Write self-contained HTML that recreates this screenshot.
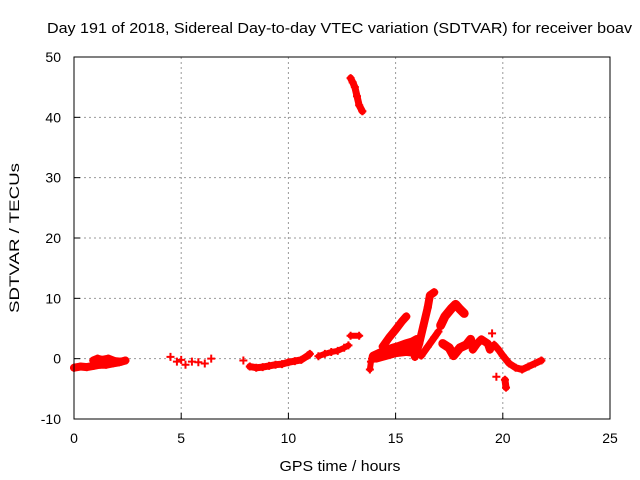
<!DOCTYPE html>
<html><head><meta charset="utf-8"><style>
body{margin:0;background:#fff}
svg{display:block;font-family:"Liberation Sans",sans-serif}
</style></head><body>
<svg id="chart" width="640" height="480" viewBox="0 0 640 480">
<text x="47" y="33" font-size="15" textLength="585" lengthAdjust="spacingAndGlyphs">Day 191 of 2018, Sidereal Day-to-day VTEC variation (SDTVAR) for receiver boav</text>
<text transform="translate(19,238) rotate(-90)" text-anchor="middle" font-size="14" textLength="150" lengthAdjust="spacingAndGlyphs">SDTVAR / TECUs</text>
<text x="340" y="471" text-anchor="middle" font-size="15" textLength="121" lengthAdjust="spacingAndGlyphs">GPS time / hours</text>
<g id="grid"></g><g id="marks"></g>
<rect x="74" y="57" width="536" height="362" fill="none" stroke="#000" stroke-width="1"/>
<g id="ticks"></g>
</svg>
<script>
const xTicks=[0,5,10,15,20,25];
const yTicks=[-10,0,10,20,30,40,50];
const t0=[[0,-1.5],[0.3,-1.3],[0.6,-1.4],[0.9,-1.2],[1.2,-1.0],[1.5,-1.0],[1.8,-0.8],[2.1,-0.6],[2.4,-0.3]];
const t1=[[0.9,-0.3],[1.1,0],[1.3,-0.2],[1.6,0],[1.9,-0.4],[2.2,-0.5]];
const t2=[[4.5,0.3],[4.8,-0.5],[5.0,-0.2],[5.2,-1.0],[5.5,-0.5],[5.8,-0.6],[6.1,-0.8],[6.4,0]];
const t3=[[7.9,-0.3]];
const t4=[[8.2,-1.3],[8.5,-1.5],[8.8,-1.4],[9.1,-1.2],[9.4,-1.0],[9.7,-0.9],[10.0,-0.6],[10.3,-0.4],[10.6,-0.2],[10.9,0.5],[11.0,0.8]];
const t5=[[11.4,0.4],[11.7,0.8],[12.0,1.1],[12.3,1.3],[12.6,1.8],[12.8,2.2]];
const t6=[[12.9,3.8],[13.3,3.8]];
const t7=[[12.9,46.5],[13.0,45.8],[13.1,45],[13.2,43.5],[13.3,42],[13.45,41]];
const t8=[[13.8,-1.8],[13.85,-0.5],[13.9,0]];
const t9=[[14.0,0.3],[14.3,0.8],[14.6,1.2],[14.9,1.6],[15.2,1.9],[15.5,2.3],[15.8,2.6],[16.0,3]];
const t9b=[[14.1,0.1],[14.5,0.5],[15,1],[15.5,1.2],[16,1.0]];
const t10=[[14.4,2],[14.7,3.5],[15.0,4.8],[15.3,6.2],[15.5,7]];
const t11=[[15.9,0.3],[16.1,2.5],[16.3,5.5],[16.5,8.5],[16.6,10.5],[16.8,11]];
const t12=[[16.2,0.5],[16.5,2],[16.8,3.5],[17.0,4.5]];
const t13=[[17.1,5.5],[17.3,7],[17.6,8.3],[17.8,9],[18.0,8.2],[18.2,7.5]];
const t14=[[17.2,2.5],[17.5,1.8],[17.7,0.5],[18.0,1.8],[18.3,2.3],[18.5,3.2]];
const t15=[[18.6,1.5],[18.8,2.5],[19.0,3.2],[19.3,2.5],[19.4,1.5]];
const t16=[[19.5,4.2]];
const t17=[[19.6,2.3],[19.8,1.5],[20.0,0.5],[20.3,-0.8],[20.6,-1.5],[20.9,-1.8],[21.2,-1.3],[21.5,-0.8],[21.8,-0.3]];
const t18=[[19.7,-3]];
const t19=[[20.1,-3.5],[20.15,-4.8]];
const tracks=[t0,t1,t2,t3,t4,t5,t6,t7,t8,t9,t9b,t10,t11,t12,t13,t14,t15,t16,t17,t18,t19];
const widths=[8,8,0,0,7,6,6,7,6,11,9,8,8,7,9,9,8,0,7,0,7];

const X=h=>74+h*(536/25);
const Y=v=>419-(v+10)*(362/60);
const NS="http://www.w3.org/2000/svg";
const grid=document.getElementById('grid'),ticks=document.getElementById('ticks'),marks=document.getElementById('marks');
function mk(tag,attrs,parent){const e=document.createElementNS(NS,tag);for(const k in attrs)e.setAttribute(k,attrs[k]);parent.appendChild(e);return e;}
xTicks.forEach(t=>{
  if(t>0&&t<25){const g=mk('line',{x1:X(t),x2:X(t),y1:57,y2:419,stroke:'#999','stroke-dasharray':'2,3'},grid);
  
  }
  const l=mk('text',{x:X(t),y:443,'text-anchor':'middle','font-size':14},ticks);l.textContent=t;
  
  
  mk('line',{x1:X(t),x2:X(t),y1:419,y2:413,stroke:'#000'},ticks);
});
yTicks.forEach(t=>{
  if(t>-10&&t<50){const g=mk('line',{x1:74,x2:610,y1:Y(t),y2:Y(t),stroke:'#999','stroke-dasharray':'2,3'},grid);
  
  }
  const l=mk('text',{x:61,y:Y(t)+5,'text-anchor':'end','font-size':14},ticks);l.textContent=t;
  
  
  mk('line',{x1:74,x2:80,y1:Y(t),y2:Y(t),stroke:'#000'},ticks);
});
tracks.forEach((tr,i)=>{
  const g=mk('g',{},marks);
  
  
  if(widths[i]>0&&tr.length>1){
    mk('polyline',{points:tr.map(p=>X(p[0])+','+Y(p[1])).join(' '),fill:'none',stroke:'#f00','stroke-width':widths[i],'stroke-linejoin':'round','stroke-linecap':'round'},g);
  }
  tr.forEach(p=>{
    const x=X(p[0]),y=Y(p[1]);
    const m=mk('path',{d:`M${x-4},${y}H${x+4}M${x},${y-4}V${y+4}`,stroke:'#f00','stroke-width':2},g);
    
    
  });
});
</script>
</body></html>
